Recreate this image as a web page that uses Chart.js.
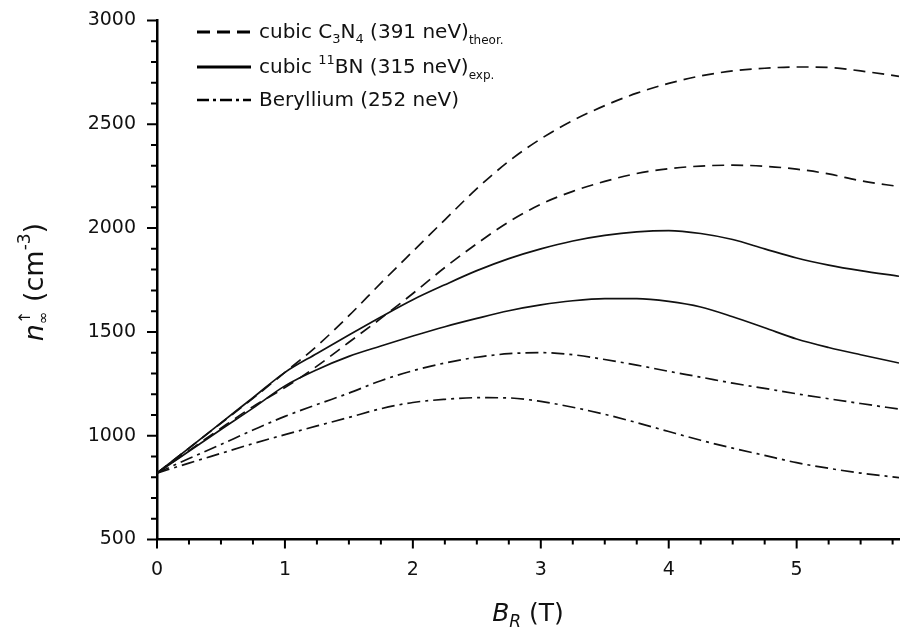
<!DOCTYPE html>
<html><head><meta charset="utf-8">
<script src="https://cdn.jsdelivr.net/npm/chart.js@4.4.0/dist/chart.umd.min.js"></script>
<style>html,body{margin:0;padding:0;background:#fff;}</style>
</head><body>
<canvas id="c" width="903" height="627"></canvas>
<script>
// ---- data ----
const xValues   = [0,0.25,0.5,0.75,1,1.25,1.5,1.75,2,2.25,2.5,2.75,3,3.25,3.5,3.75,4,4.25,4.5,4.75,5,5.25,5.5,5.8];
const c3n4Upper = [820,940,1060,1180,1305,1432,1578,1735,1888,2040,2190,2322,2430,2518,2590,2650,2697,2733,2757,2770,2776,2774,2757,2731];
const c3n4Lower = [820,928,1036,1140,1232,1335,1450,1565,1685,1810,1925,2030,2115,2177,2225,2263,2286,2299,2303,2298,2284,2261,2228,2200];
const bnUpper   = [820,940,1062,1183,1305,1396,1485,1572,1655,1727,1795,1853,1900,1938,1965,1982,1988,1974,1945,1900,1856,1822,1795,1768];
const bnLower   = [820,925,1030,1133,1240,1318,1382,1432,1480,1525,1565,1602,1630,1650,1660,1660,1647,1620,1573,1520,1466,1425,1390,1350];
const beUpper   = [820,890,958,1027,1093,1150,1205,1265,1313,1350,1378,1395,1400,1390,1367,1340,1310,1282,1253,1228,1202,1178,1155,1128];
const beLower   = [820,868,915,962,1005,1047,1088,1130,1160,1175,1183,1182,1165,1137,1103,1063,1020,978,940,905,870,843,820,798];
const xTicks = [0,1,2,3,4,5];
const yTicks = [500,1000,1500,2000,2500,3000];
const xMinorStep = 0.25, yMinorStep = 100;

const INK = '#111';
const DASH = [12,7];
const DASHDOT = [13,5,3,5];

const pts = arr => xValues.map((x,i)=>({x:x, y:arr[i]}));
const ds = (label, arr, dash) => ({label, data: pts(arr), borderColor: INK, borderWidth: 1.7,
  borderDash: dash, pointRadius: 0, fill: false, cubicInterpolationMode: 'monotone'});

function drawParts(ctx, parts, x, y, measureOnly) {
  let cx = x;
  for (const p of parts) {
    if (p.stack) {
      let w = 0;
      for (const s of p.stack) {
        ctx.font = (s.italic?'italic ':'') + s.size + 'px "DejaVu Sans"';
        if (!measureOnly) ctx.fillText(s.t, cx, y + (s.dy||0));
        w = Math.max(w, ctx.measureText(s.t).width);
      }
      cx += w;
    } else {
      ctx.font = (p.italic?'italic ':'') + p.size + 'px "DejaVu Sans"';
      if (!measureOnly) ctx.fillText(p.t, cx, y + (p.dy||0));
      cx += ctx.measureText(p.t).width;
    }
  }
  return cx - x;
}

const decor = {
  id: 'decor',
  afterDraw(chart) {
    const ctx = chart.ctx, a = chart.chartArea;
    const xs = chart.scales.x, ys = chart.scales.y;
    ctx.save();
    // tick marks
    ctx.strokeStyle = '#000'; ctx.lineWidth = 2;
    ctx.beginPath();
    for (const v of xTicks) { const p = xs.getPixelForValue(v); ctx.moveTo(p, a.bottom); ctx.lineTo(p, a.bottom + 9); }
    for (let v = 0; v <= xs.max + 1e-9; v += xMinorStep) {
      if (Math.abs(v - Math.round(v)) < 1e-6) continue;
      const p = xs.getPixelForValue(v); ctx.moveTo(p, a.bottom); ctx.lineTo(p, a.bottom + 5);
    }
    for (const v of yTicks) { const p = ys.getPixelForValue(v); ctx.moveTo(a.left, p); ctx.lineTo(a.left - 10, p); }
    for (let v = ys.min; v <= ys.max + 1e-9; v += yMinorStep) {
      if (v % 500 === 0) continue;
      const p = ys.getPixelForValue(v); ctx.moveTo(a.left, p); ctx.lineTo(a.left - 6, p);
    }
    ctx.stroke();

    ctx.fillStyle = INK; ctx.textBaseline = 'alphabetic'; ctx.textAlign = 'left';
    // x title
    const xt = [{t:'B', size:25, italic:true}, {t:'R', size:17, italic:true, dy:6}, {t:' (T)', size:25}];
    const wx = drawParts(ctx, xt, 0, 0, true);
    drawParts(ctx, xt, (a.left + a.right)/2 - wx/2, 621);
    // y title
    const yt = [{t:'n', size:27, italic:true},
      {stack:[{t:'\u2191', size:16, dy:-13}, {t:'\u221E', size:15, dy:5}]},
      {t:' (cm', size:27}, {t:'-3', size:17, dy:-13}, {t:')', size:27}];
    const wy = drawParts(ctx, yt, 0, 0, true);
    ctx.save();
    ctx.translate(43, 282); ctx.rotate(-Math.PI/2);
    drawParts(ctx, yt, -wy/2, 0);
    ctx.restore();

    // legend
    const rows = [
      {y: 32, dash: [13,7], w: 3, parts: [{t:'cubic C', size:20}, {t:'3', size:13, dy:5}, {t:'N', size:20}, {t:'4', size:13, dy:5}, {t:' (391 neV)', size:20}, {t:'theor.', size:12, dy:6}]},
      {y: 67, dash: [], w: 3, parts: [{t:'cubic ', size:20}, {t:'11', size:13, dy:-9}, {t:'BN (315 neV)', size:20}, {t:'exp.', size:12, dy:6}]},
      {y: 100, dash: [12,4,3,4], w: 2.6, parts: [{t:'Beryllium (252 neV)', size:20}]}
    ];
    for (const r of rows) {
      ctx.strokeStyle = '#000'; ctx.lineWidth = r.w; ctx.setLineDash(r.dash);
      ctx.beginPath(); ctx.moveTo(197, r.y); ctx.lineTo(251, r.y); ctx.stroke();
      ctx.setLineDash([]);
      drawParts(ctx, r.parts, 259, r.y + 6);
    }
    ctx.restore();
  }
};

const tickFont = {family: 'DejaVu Sans', size: 19};
new Chart(document.getElementById('c'), {
  type: 'line',
  data: { datasets: [
    ds('cubic C3N4 upper', c3n4Upper, DASH),
    ds('cubic C3N4 lower', c3n4Lower, DASH),
    ds('cubic 11BN upper', bnUpper, []),
    ds('cubic 11BN lower', bnLower, []),
    ds('Beryllium upper', beUpper, DASHDOT),
    ds('Beryllium lower', beLower, DASHDOT)
  ]},
  options: {
    responsive: false, animation: false, devicePixelRatio: 1,
    layout: { padding: { top: 20.5, right: 4, left: 0, bottom: 0 } },
    plugins: { legend: { display: false }, tooltip: { enabled: false } },
    scales: {
      x: {
        type: 'linear', min: 0, max: 5.8,
        afterBuildTicks: s => { s.ticks = xTicks.map(v => ({value: v})); },
        afterFit: s => { s.height = 627 - 539.5; },
        ticks: { font: tickFont, color: INK, padding: 19, maxRotation: 0, autoSkip: false,
                 callback: v => String(v) },
        grid: { display: false, drawTicks: false },
        border: { display: true, color: '#000', width: 2.5 }
      },
      y: {
        type: 'linear', min: 500, max: 3000,
        afterBuildTicks: s => { s.ticks = yTicks.map(v => ({value: v})); },
        afterFit: s => { s.width = 157; },
        ticks: { font: tickFont, color: INK, padding: 0, autoSkip: false,
                 callback: v => String(v) },
        grid: { display: true, drawOnChartArea: false, drawTicks: true, tickLength: 21, color: 'rgba(0,0,0,0)' },
        border: { display: true, color: '#000', width: 2.5 }
      }
    }
  },
  plugins: [decor]
});
</script>
</body></html>
